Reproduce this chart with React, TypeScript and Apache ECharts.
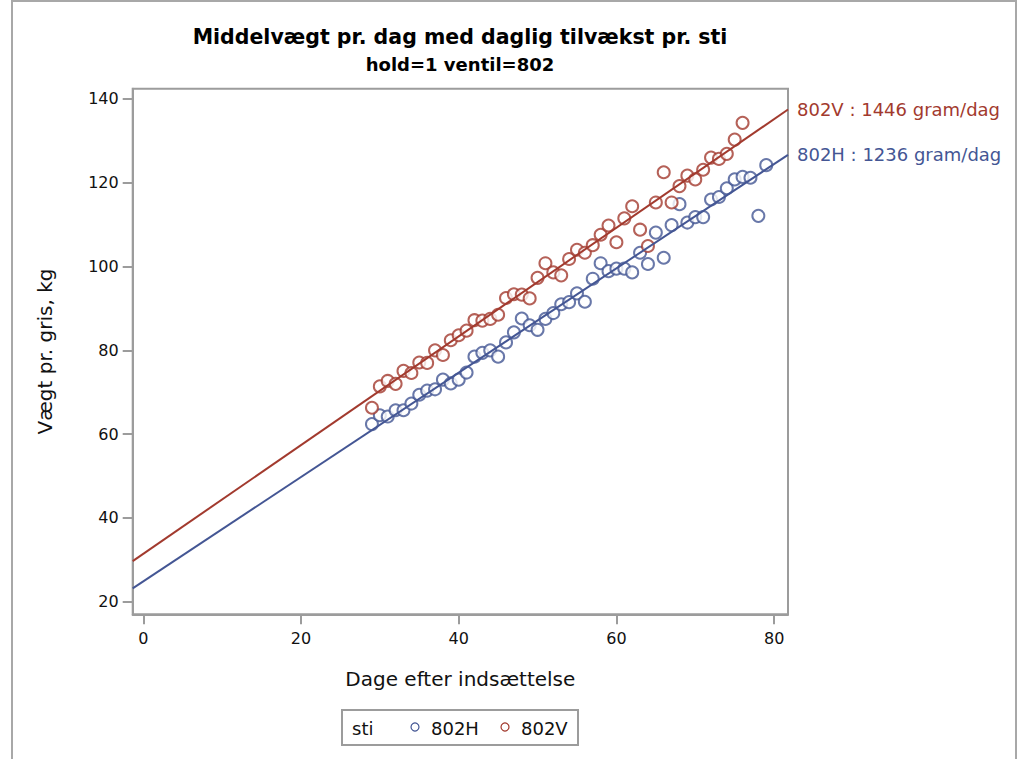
import React, { useEffect, useRef } from "react";
import * as echarts from "echarts";

// Mean weight per pen (kg) by days after placement
const daysH = [29, 30, 31, 32, 33, 34, 35, 36, 37, 38, 39, 40, 41, 42, 43, 44, 45, 46, 47, 48, 49, 50, 51, 52, 53, 54, 55, 56, 57, 58, 59, 60, 61, 62, 63, 64, 65, 66, 67, 68, 69, 70, 71, 72, 73, 74, 75, 76, 77, 78, 79];
const weightH = [62.4, 64.5, 64.2, 65.7, 65.7, 67.3, 69.4, 70.4, 70.7, 73.0, 72.1, 73.0, 74.7, 78.5, 79.4, 80.0, 78.5, 81.9, 84.3, 87.6, 86.0, 84.9, 87.5, 88.9, 91.0, 91.5, 93.6, 91.6, 97.1, 100.8, 98.9, 99.5, 99.5, 98.6, 103.3, 100.6, 108.1, 102.1, 109.9, 114.9, 110.5, 111.8, 111.8, 116.0, 116.6, 118.7, 120.8, 121.4, 121.2, 112.1, 124.2];

const daysV = [29, 30, 31, 32, 33, 34, 35, 36, 37, 38, 39, 40, 41, 42, 43, 44, 45, 46, 47, 48, 49, 50, 51, 52, 53, 54, 55, 56, 57, 58, 59, 60, 61, 62, 63, 64, 65, 66, 67, 68, 69, 70, 71, 72, 73, 74, 75, 76];
const weightV = [66.3, 71.4, 72.7, 72.0, 75.1, 74.6, 77.1, 77.0, 80.0, 78.9, 82.4, 83.6, 84.7, 87.2, 87.1, 87.5, 88.5, 92.5, 93.4, 93.3, 92.4, 97.3, 100.8, 98.6, 97.9, 101.8, 104.0, 103.3, 105.1, 107.6, 109.8, 105.8, 111.5, 114.4, 108.8, 104.9, 115.3, 122.5, 115.3, 119.2, 121.7, 120.8, 123.1, 126.0, 125.7, 126.9, 130.3, 134.3];

// Pens, fitted growth lines and daily gain labels (order: 802H, 802V)
const penNames = ["802H", "802V"];
const fitIntercept = [24.87, 31.44];
const fitSlope = [1.245, 1.297];
const gainGramPerDay = [1236, 1446];
const penColors = ["#445694", "#A23A2E"];

// Axis extents and tick labels
const xExtent = [-1.34, 81.76];
const yExtent = [17.0, 142.45];
const xTicks = [0, 20, 40, 60, 80];
const yTicks = [20, 40, 60, 80, 100, 120, 140];

const FONT = "DejaVu Sans";
const AXIS_GRAY = "#9c9c9c";

function fitLine(i: number) {
  return xExtent.map((x) => [x, fitIntercept[i] + fitSlope[i] * x]);
}

export default function App() {
  const ref = useRef<HTMLDivElement>(null);

  useEffect(() => {
    if (!ref.current) return;
    const chart = echarts.init(ref.current, undefined, { renderer: "svg" });

    const scatterData = [
      daysH.map((d, i) => [d, weightH[i]]),
      daysV.map((d, i) => [d, weightV[i]]),
    ];

    const scatterSeries = penNames.map((name, i) => ({
      name,
      type: "scatter",
      data: scatterData[i],
      symbol: "emptyCircle",
      symbolSize: 12,
      itemStyle: { color: penColors[i], borderColor: penColors[i], borderWidth: 1.2, opacity: 0.8 },
      z: 3,
    }));

    const lineSeries = penNames.map((name, i) => ({
      name: name + "-fit",
      type: "line",
      data: fitLine(i),
      showSymbol: false,
      symbol: "none",
      lineStyle: { color: penColors[i], width: 2 },
      z: 4,
      endLabel: {
        show: true,
        distance: 9,
        formatter: () => `${name} : ${gainGramPerDay[i]} gram/dag`,
        color: penColors[i],
        fontFamily: FONT,
        fontSize: 18,
      },
    }));

    const legendX = 342;
    const legendY = 710;

    chart.setOption({
      animation: false,
      backgroundColor: "#ffffff",
      grid: {
        left: 132.7,
        top: 88.7,
        width: 655.3,
        height: 525.6,
        show: true,
        borderColor: AXIS_GRAY,
        borderWidth: 2,
        outerBoundsMode: "none",
        containLabel: false,
      },
      xAxis: {
        type: "value",
        min: xExtent[0],
        max: xExtent[1],
        name: "Dage efter indsættelse",
        nameLocation: "middle",
        nameGap: 55,
        nameTextStyle: { fontFamily: FONT, fontSize: 20, color: "#111" },
        axisLine: { show: true, onZero: false, lineStyle: { color: AXIS_GRAY, width: 2 } },
        axisTick: { show: true, length: 10, customValues: xTicks, lineStyle: { color: AXIS_GRAY, width: 2 } },
        axisLabel: { customValues: xTicks, margin: 16, fontFamily: FONT, fontSize: 16, color: "#111" },
        splitLine: { show: false },
      },
      yAxis: {
        type: "value",
        min: yExtent[0],
        max: yExtent[1],
        name: "Vægt pr. gris, kg",
        nameLocation: "middle",
        nameGap: 78,
        nameTextStyle: { fontFamily: FONT, fontSize: 20, color: "#111" },
        axisLine: { show: true, onZero: false, lineStyle: { color: AXIS_GRAY, width: 2 } },
        axisTick: { show: true, length: 10, customValues: yTicks, lineStyle: { color: AXIS_GRAY, width: 2 } },
        axisLabel: { customValues: yTicks, margin: 14, fontFamily: FONT, fontSize: 16, color: "#111" },
        splitLine: { show: false },
      },
      series: [...lineSeries, ...scatterSeries],
      graphic: [
        {
          type: "rect",
          silent: true,
          shape: { x: 12, y: 1, width: 1004, height: 780 },
          style: { fill: "none", stroke: "#a8a8a8", lineWidth: 2 },
        },
        {
          type: "text",
          x: 460,
          y: 37,
          style: {
            text: "Middelvægt pr. dag med daglig tilvækst pr. sti",
            font: `bold 20.5px "${FONT}"`,
            fill: "#000",
            textAlign: "center",
            textVerticalAlign: "middle",
          },
        },
        {
          type: "text",
          x: 460,
          y: 64,
          style: {
            text: "hold=1 ventil=802",
            font: `bold 18px "${FONT}"`,
            fill: "#000",
            textAlign: "center",
            textVerticalAlign: "middle",
          },
        },
        {
          type: "group",
          x: legendX,
          y: legendY,
          children: [
            {
              type: "rect",
              shape: { x: 0, y: 0, width: 236, height: 35 },
              style: { fill: "#fff", stroke: "#9c9c9c", lineWidth: 2 },
            },
            {
              type: "text",
              x: 10,
              y: 18,
              style: { text: "sti", font: `18px "${FONT}"`, fill: "#111", textVerticalAlign: "middle" },
            },
            {
              type: "circle",
              shape: { cx: 73, cy: 17, r: 4 },
              style: { fill: "none", stroke: penColors[0], lineWidth: 1.2 },
            },
            {
              type: "text",
              x: 89,
              y: 18,
              style: { text: penNames[0], font: `18px "${FONT}"`, fill: "#111", textVerticalAlign: "middle" },
            },
            {
              type: "circle",
              shape: { cx: 163, cy: 17, r: 4 },
              style: { fill: "none", stroke: penColors[1], lineWidth: 1.2 },
            },
            {
              type: "text",
              x: 179,
              y: 18,
              style: { text: penNames[1], font: `18px "${FONT}"`, fill: "#111", textVerticalAlign: "middle" },
            },
          ],
        },
      ],
    });

    return () => chart.dispose();
  }, []);

  return (
    <div
      ref={ref}
      style={{ position: "fixed", left: 0, top: 0, width: 1028, height: 759, background: "#fff" }}
    />
  );
}
